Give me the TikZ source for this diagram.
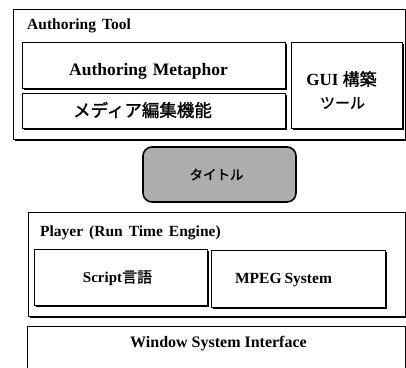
\documentclass[tikz,border=0pt]{standalone}
\usepackage{fontspec}
\setmainfont{Liberation Serif}
\newfontfamily\jpface{Noto Sans CJK JP}[RawFeature={embolden=1.4}]
\newcommand\jp{\jpface\mdseries}
\usetikzlibrary{shadows}
\tikzset{
  box/.style={draw, line width=0.9pt, fill=white, inner sep=0pt,
    drop shadow={shadow xshift=1.8pt, shadow yshift=-2pt, fill=black, opacity=1}},
  txt/.style={inner sep=0pt, font=\bfseries},
  titlebox/.style={draw, line width=1.6pt, rounded corners=9pt, fill=black!32, inner sep=0pt}
}
\begin{document}
\begin{tikzpicture}[x=1pt,y=-1pt]
\useasboundingbox (0,0) rectangle (406,367);
\clip (0,0) rectangle (406,367);
% Authoring Tool frame
\node[box, minimum width=392pt, minimum height=130pt] (auth) at (209,74) {};
\node[txt, anchor=base west, font=\bfseries\fontsize{15.5}{17}\selectfont] (authlbl) at (27,29) {Authoring\hspace{6pt}Tool};
\node[box, minimum width=263pt, minimum height=46pt] (meta) at (153.5,65) {};
\node[txt, anchor=base, font=\bfseries\fontsize{17.5}{19}\selectfont] (metalbl) at (148.5,75) {Authoring\hspace{6pt}Metaphor};
\node[box, minimum width=263pt, minimum height=35pt] (media) at (153.5,110.5) {};
\node[txt, font=\jp\fontsize{17.5}{19}\selectfont] (medialbl) at (142.5,110) {メディア編集機能};
\node[box, minimum width=111pt, minimum height=86pt] (gui) at (346.5,85) {};
\node[txt, font=\bfseries\fontsize{17}{19}\selectfont] (guilbl1) at (341.5,79) {GUI {\jp 構築}};
\node[txt, font=\jp\fontsize{15}{17}\selectfont] (guilbl2) at (342.5,103) {ツール};
% Title
\node[titlebox, minimum width=153pt, minimum height=55pt] (title) at (219.5,174.5) {};
\node[txt, font=\jp\fontsize{13.5}{15}\selectfont] (titlelbl) at (216.5,174.5) {タイトル};
% Player frame
\node[box, minimum width=377pt, minimum height=104pt] (player) at (216.5,264) {};
\node[txt, anchor=base west, font=\bfseries\fontsize{15.5}{17}\selectfont] (playerlbl) at (40,236) {Player\hspace{6pt}(Run\hspace{6pt}Time\hspace{6pt}Engine)};
\node[box, minimum width=173pt, minimum height=56pt] (script) at (120.5,277) {};
\node[txt, font=\bfseries\fontsize{15}{17}\selectfont] (scriptlbl) at (117.5,278) {Script{\jp 言語}};
\node[box, minimum width=174pt, minimum height=57pt] (mpeg) at (298,278.5) {};
\node[txt, anchor=base, font=\bfseries\fontsize{15.5}{17}\selectfont] (mpeglbl) at (283.5,283) {MPEG\hspace{3pt}System};
% Window System Interface
\node[box, minimum width=378pt, minimum height=60pt] (win) at (216,356) {};
\node[txt, anchor=base, font=\bfseries\fontsize{16}{18}\selectfont] (winlbl) at (218.5,347) {Window\hspace{4pt}System\hspace{4pt}Interface};
\end{tikzpicture}
\end{document}
